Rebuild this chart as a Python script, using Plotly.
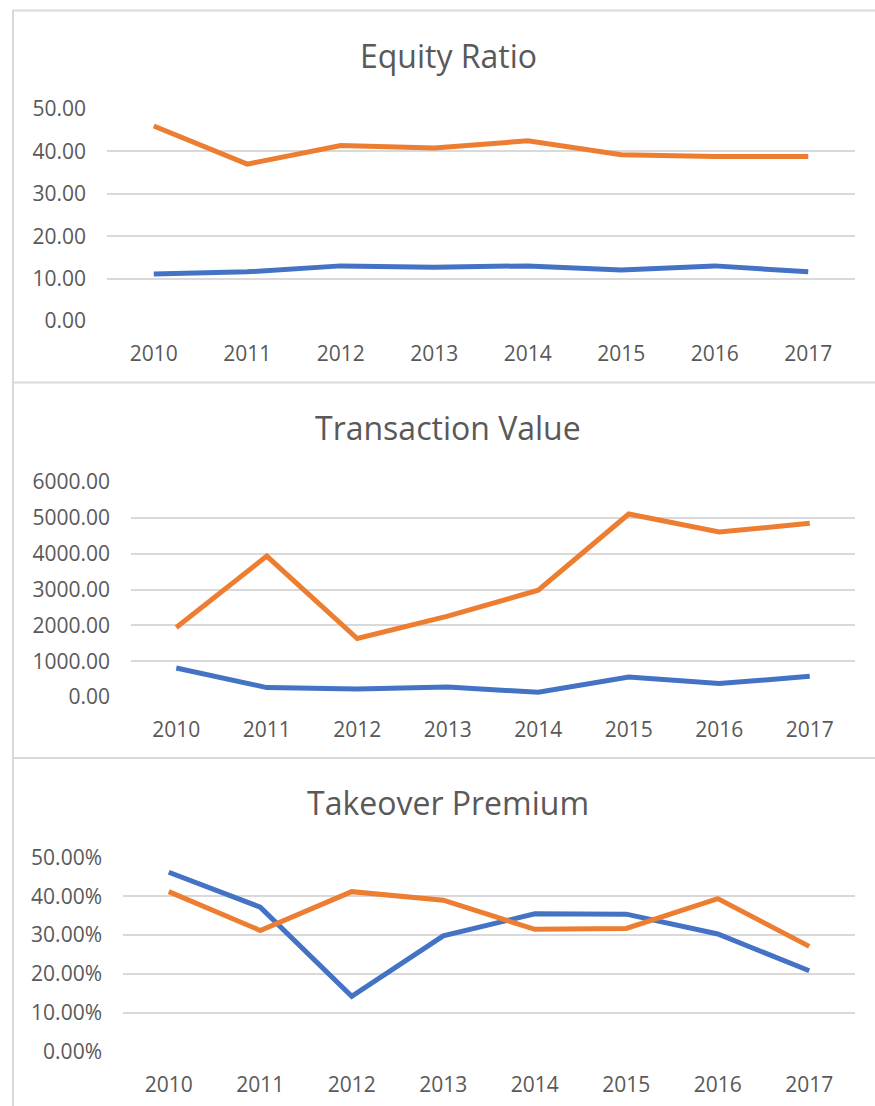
import plotly.graph_objects as go

# Данные
years = ["2010", "2011", "2012", "2013", "2014", "2015", "2016", "2017"]

equity_blue = [11.1, 11.6, 13.0, 12.7, 13.0, 12.0, 13.0, 11.6]
equity_orange = [46.0, 37.0, 41.4, 40.8, 42.5, 39.2, 38.8, 38.8]

value_blue = [811, 263, 224, 280, 131, 559, 374, 578]
value_orange = [1940, 3932, 1632, 2255, 2982, 5106, 4603, 4846]

premium_blue = [0.462, 0.372, 0.142, 0.298, 0.355, 0.354, 0.303, 0.208]
premium_orange = [0.412, 0.312, 0.412, 0.390, 0.315, 0.317, 0.394, 0.271]

titles = ["Equity Ratio", "Transaction Value", "Takeover Premium"]

W, H = 875, 1106
BLUE = "#4472C4"
ORANGE = "#ED7D31"
TEXT = "#595959"
GRID = "#d9d9d9"
FONT = "Open Sans"


def px_x(p):
    return p / W


def px_y(p):
    return 1 - p / H


fig = go.Figure()

panels = [
    # (blue, orange, x-left, y-bottom, y-top, range, dtick, tickformat, title y)
    (equity_blue, equity_orange, 107, 321, 109, [0, 50], 10, ".2f", 55),
    (value_blue, value_orange, 131, 697, 482, [0, 6000], 1000, ".2f", 428),
    (premium_blue, premium_orange, 123, 1051.5, 857.5, [0, 0.5], 0.1, ".2%", 802),
]

for i, (blue, orange, xl, yb, yt, rng, dt, fmt, ty) in enumerate(panels):
    n = "" if i == 0 else str(i + 1)
    for vals, col in [(blue, BLUE), (orange, ORANGE)]:
        fig.add_trace(go.Scatter(
            x=years, y=vals, mode="lines",
            line=dict(color=col, width=5),
            xaxis="x" + n, yaxis="y" + n,
            showlegend=False, hoverinfo="skip",
        ))
    fig.layout["xaxis" + n] = dict(
        domain=[px_x(xl), px_x(855)],
        anchor="y" + n,
        type="category",
        range=[-0.5, 7.5],
        showgrid=False, zeroline=False, showline=False,
        ticks="", ticklabelstandoff=18, automargin=False,
        tickfont=dict(family=FONT, size=21, color=TEXT),
        fixedrange=True,
    )
    fig.layout["yaxis" + n] = dict(
        domain=[px_y(yb), px_y(yt)],
        anchor="x" + n,
        range=rng, dtick=dt, tick0=0, tickformat=fmt,
        showgrid=True, gridcolor=GRID, gridwidth=2,
        zeroline=False, showline=False,
        ticks="", ticklabelstandoff=20, automargin=False,
        tickfont=dict(family=FONT, size=21, color=TEXT),
        fixedrange=True,
    )
    fig.add_annotation(
        text=titles[i], xref="paper", yref="paper",
        x=px_x(448), y=px_y(ty), xanchor="center", yanchor="middle",
        showarrow=False, font=dict(family=FONT, size=32, color=TEXT),
    )

# Рамки диаграмм
for y0 in [10.5, 382.5, 758]:
    fig.add_shape(type="line", xref="paper", yref="paper",
                  x0=px_x(12), x1=1, y0=px_y(y0), y1=px_y(y0),
                  line=dict(color=GRID, width=2))
fig.add_shape(type="line", xref="paper", yref="paper",
              x0=px_x(13), x1=px_x(13), y0=px_y(10), y1=0,
              line=dict(color=GRID, width=2))

fig.update_layout(
    width=W, height=H,
    margin=dict(l=0, r=0, t=0, b=0, pad=0, autoexpand=False),
    paper_bgcolor="white", plot_bgcolor="white",
)

# убрать отступы страницы
fig.write_html("out.html",
               config={"displayModeBar": False},
               post_script="document.body.style.margin='0';"
                           "document.body.style.overflow='hidden';")
